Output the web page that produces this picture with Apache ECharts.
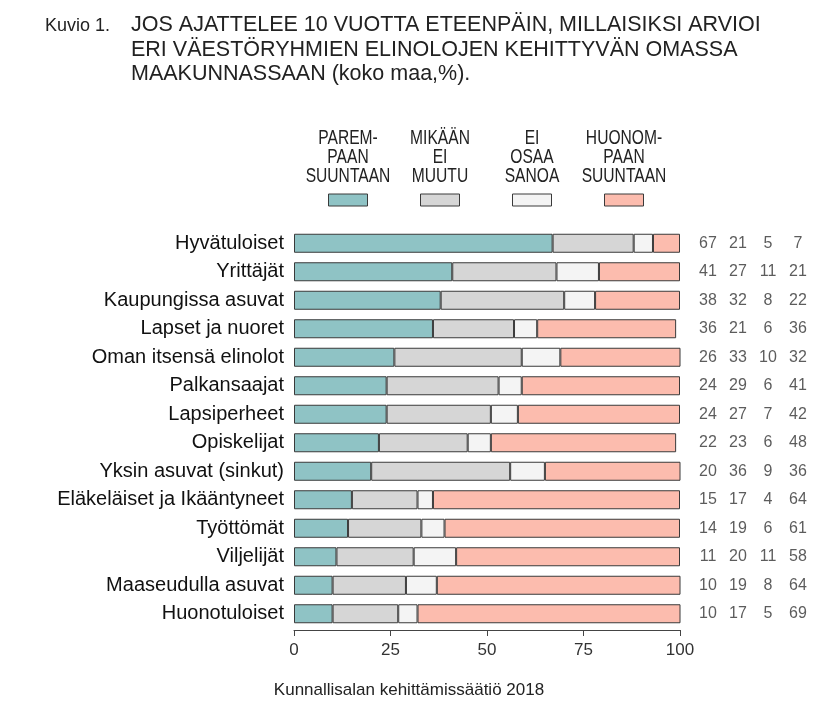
<!DOCTYPE html>
<html><head><meta charset="utf-8">
<script src="https://cdn.jsdelivr.net/npm/echarts@6/dist/echarts.min.js"></script>
<style>html,body{margin:0;padding:0;background:#fff}#c{width:830px;height:702px}</style>
</head><body><div id="c"></div>
<script>
const categories = ['Hyvätuloiset','Yrittäjät','Kaupungissa asuvat','Lapset ja nuoret','Oman itsensä elinolot','Palkansaajat','Lapsiperheet','Opiskelijat','Yksin asuvat (sinkut)','Eläkeläiset ja Ikääntyneet','Työttömät','Viljelijät','Maaseudulla asuvat','Huonotuloiset'];
const seriesNames = ['PAREMPAAN SUUNTAAN','MIKÄÄN EI MUUTU','EI OSAA SANOA','HUONOMPAAN SUUNTAAN'];
const legendLines = [['PAREM-','PAAN','SUUNTAAN'],['MIKÄÄN','EI','MUUTU'],['EI','OSAA','SANOA'],['HUONOM-','PAAN','SUUNTAAN']];
const parempaan     = [67,41,38,36,26,24,24,22,20,15,14,11,10,10];
const mikaanEiMuutu = [21,27,32,21,33,29,27,23,36,17,19,20,19,17];
const eiOsaaSanoa   = [5,11,8,6,10,6,7,6,9,4,6,11,8,5];
const huonompaan    = [7,21,22,36,32,41,42,48,36,64,61,58,64,69];
const xTicks = [0,25,50,75,100];
const colors = ['#8fc3c5','#d6d6d6','#f4f4f4','#fcbcae'];

const values = [parempaan, mikaanEiMuutu, eiOsaaSanoa, huonompaan];
const FONT = '"Liberation Sans", Arial, sans-serif';

const chart = echarts.init(document.getElementById('c'), null, {renderer:'canvas'});

const barSeries = values.map((arr, j) => ({
  name: seriesNames[j], type: 'bar', stack: 'total', xAxisIndex: 0, yAxisIndex: 0,
  data: arr, barWidth: 19, clip: true,
  itemStyle: {color: colors[j], borderColor: '#3a3a3a', borderWidth: 1},
  emphasis: {disabled: true}, animation: false
}));

const numSeries = values.map((arr, j) => ({
  type: 'scatter', xAxisIndex: 1, yAxisIndex: 1,
  data: arr.map((v, i) => [j + 0.5, i, v]),
  symbolSize: 1, itemStyle: {color: 'rgba(0,0,0,0)'},
  label: {show: true, position: 'inside', formatter: p => String(p.value[2]),
    fontFamily: FONT, fontSize: 16, color: '#333'},
  emphasis: {disabled: true}, animation: false, silent: true
}));

const legendCenters = [348, 440, 532, 624];
const graphics = [];
graphics.push({type:'text', x: 45, y: 26, style:{text:'Kuvio 1.', font:'18px '+FONT, fill:'#222', textAlign:'left', textVerticalAlign:'middle'}});
['JOS AJATTELEE 10 VUOTTA ETEENPÄIN, MILLAISIKSI ARVIOI','ERI VÄESTÖRYHMIEN ELINOLOJEN KEHITTYVÄN OMASSA','MAAKUNNASSAAN (koko maa,%).'].forEach((t,k)=>{
  graphics.push({type:'text', x: 131, y: 25 + k*24.6, style:{text:t, font:'21.5px '+FONT, fill:'#222', textAlign:'left', textVerticalAlign:'middle'}});
});
legendLines.forEach((lines, j) => {
  lines.forEach((t, k) => {
    graphics.push({type:'text', x: legendCenters[j], y: 138 + k*19.3, scaleX: 0.78,
      style:{text:t, font:'20px '+FONT, fill:'#222', textAlign:'center', textVerticalAlign:'middle'}});
  });
  graphics.push({type:'rect', shape:{x: legendCenters[j]-19.5, y: 194, width: 39, height: 12},
    style:{fill: colors[j], stroke:'#3a3a3a', lineWidth:1}});
});
graphics.push({type:'text', x: 409, y: 690, style:{text:'Kunnallisalan kehittämissäätiö 2018', font:'17px '+FONT, fill:'#222', textAlign:'center', textVerticalAlign:'middle'}});

chart.setOption({
  animation: false,
  backgroundColor: '#fff',
  grid: [
    {left: 294, top: 229, width: 386, height: 399, containLabel: false},
    {left: 693, top: 229, width: 120, height: 399, containLabel: false}
  ],
  xAxis: [
    {type:'value', gridIndex:0, min: xTicks[0], max: xTicks[xTicks.length-1], interval: 25, offset: 2,
      axisLine:{show:true, lineStyle:{color:'#444', width:1}},
      axisTick:{show:true, length:6, lineStyle:{color:'#444'}},
      splitLine:{show:false},
      axisLabel:{fontFamily: FONT, fontSize: 17, color:'#333', margin: 12}},
    {type:'value', gridIndex:1, min:0, max:4, show:false}
  ],
  yAxis: [
    {type:'category', gridIndex:0, data: categories, inverse: true,
      axisLine:{show:false}, axisTick:{show:false},
      axisLabel:{fontFamily: FONT, fontSize: 20, color:'#111', margin: 10}},
    {type:'category', gridIndex:1, data: categories, inverse: true, show:false}
  ],
  series: barSeries.concat(numSeries),
  graphic: graphics
});
</script></body></html>
